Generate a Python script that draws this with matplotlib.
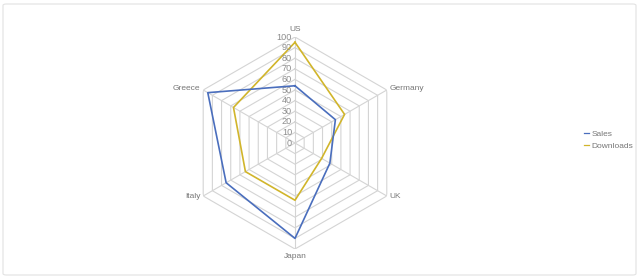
import matplotlib.pyplot as plt
import numpy as np
from matplotlib.patches import FancyBboxPatch

plt.rcParams['font.family'] = ['Liberation Sans', 'DejaVu Sans']

# data
categories = ['US', 'Germany', 'UK', 'Japan', 'Italy', 'Greece']
sales = [54, 44, 38, 90, 75, 95]
downloads = [95, 54, 29, 54, 54, 67]
levels = list(range(0, 101, 10))

blue = '#4a6ebd'
yellow = '#d1b52b'
grid_col = '#d4d4d4'
txt_col = '#777777'

fig = plt.figure(figsize=(6.4, 2.78), dpi=100)
fig.patches.append(FancyBboxPatch((3 / 640, 3 / 278), 633 / 640, 271 / 278,
                                  boxstyle='round,pad=0,rounding_size=0.005',
                                  transform=fig.transFigure, fill=False,
                                  edgecolor='#e2e2e2', linewidth=0.8))

ax = fig.add_axes([0.2953, 0.1043, 0.33125, 0.7626], projection='polar')
ax.set_theta_offset(np.pi / 2)
ax.set_theta_direction(-1)
ax.set_ylim(0, 100)
ax.grid(False)
ax.spines['polar'].set_visible(False)
ax.set_xticks([])
ax.set_yticks([])
ax.patch.set_alpha(0)

theta = np.linspace(0, 2 * np.pi, len(categories), endpoint=False)
theta_c = np.append(theta, theta[0])

# hexagon grid
for lv in levels[1:]:
    ax.plot(theta_c, [lv] * len(theta_c), color=grid_col, lw=0.8, zorder=1)
for t in theta:
    ax.plot([t, t], [0, 100], color=grid_col, lw=0.8, zorder=1)

# tick labels along US axis
for lv in levels:
    ax.annotate(str(lv), xy=(0, lv), xytext=(-2, 0), textcoords='offset points',
                ha='right', va='center', fontsize=6.6, color='#8c8c8c')

# category labels
offsets = {
    'US': ((0, 3), 'center', 'bottom'),
    'Germany': ((2, 1), 'left', 'center'),
    'UK': ((2, -0.5), 'left', 'center'),
    'Japan': ((0, -3), 'center', 'top'),
    'Italy': ((-2, -0.5), 'right', 'center'),
    'Greece': ((-2, 1), 'right', 'center'),
}
for t, c in zip(theta, categories):
    off, ha, va = offsets[c]
    ax.annotate(c, xy=(t, 100), xytext=off, textcoords='offset points',
                ha=ha, va=va, fontsize=6.0, color=txt_col, annotation_clip=False)

ax.plot(theta_c, sales + sales[:1], color=blue, lw=1.2, label='Sales', zorder=3)
ax.plot(theta_c, downloads + downloads[:1], color=yellow, lw=1.2, label='Downloads', zorder=2)

leg = fig.legend(loc='center left', bbox_to_anchor=(576 / 640, 138 / 278), frameon=False,
                 fontsize=6.0, labelcolor=txt_col, handlelength=0.6, handletextpad=0.35,
                 labelspacing=0.6)
for h in leg.legend_handles:
    h.set_linewidth(0.9)

fig.savefig('out.png', dpi=100)
